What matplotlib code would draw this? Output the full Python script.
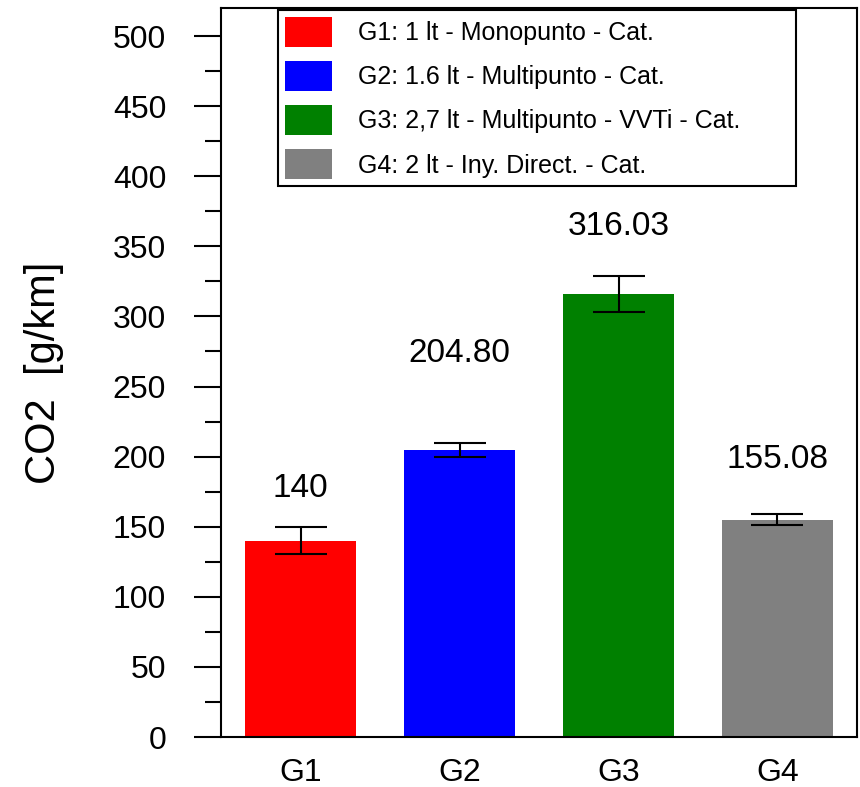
import matplotlib
matplotlib.use("Agg")
import matplotlib.pyplot as plt
from matplotlib.ticker import MultipleLocator
import numpy as np

plt.rcParams['font.family'] = ['Liberation Sans', 'DejaVu Sans']

# Data
groups = ["G1", "G2", "G3", "G4"]
co2 = [140.0, 204.80, 316.03, 155.08]
co2_err = [9.5, 4.8, 13.0, 4.0]
value_labels = ["140", "204.80", "316.03", "155.08"]
legend_labels = [
    "G1: 1 lt - Monopunto - Cat.",
    "G2: 1.6 lt - Multipunto - Cat.",
    "G3: 2,7 lt - Multipunto - VVTi - Cat.",
    "G4: 2 lt - Iny. Direct. - Cat.",
]
colors = ["#ff0000", "#0000ff", "#008000", "#808080"]

fig = plt.figure(figsize=(8.6, 7.87), dpi=100)
ax = fig.add_axes([0.257, 0.0635, 0.7395, 0.9263])

x = np.arange(len(groups))
bars = ax.bar(x, co2, width=0.7, color=colors, edgecolor="none",
              label=legend_labels, zorder=2)
ax.errorbar(x, co2, yerr=co2_err, fmt="none", ecolor="black",
            elinewidth=1.5, capsize=18.5, capthick=1.5, zorder=3)

# value annotations above each bar
label_offset = [28, 64, 35, 39]
for xi, v, e, off, txt in zip(x, co2, co2_err, label_offset, value_labels):
    ax.text(xi, v + e + off, txt, ha="center", va="center", fontsize=24)

ax.set_xlim(-0.5, 3.5)
ax.set_ylim(0, 520)
ax.set_xticks(x)
ax.set_xticklabels(groups)
ax.yaxis.set_major_locator(MultipleLocator(50))
ax.yaxis.set_minor_locator(MultipleLocator(25))
ax.set_yticks(np.arange(0, 501, 50))

ax.tick_params(axis="y", which="major", direction="out", length=19.5,
               width=1.5, pad=20, labelsize=23, right=False)
ax.tick_params(axis="y", which="minor", direction="out", length=11.5,
               width=1.5, right=False)
ax.tick_params(axis="x", which="both", length=0, pad=15, labelsize=23)

for s in ax.spines.values():
    s.set_linewidth(1.5)

ax.set_ylabel("CO2  [g/km]", fontsize=30)
ax.yaxis.set_label_coords(-0.247, 0.5)

leg = ax.legend(loc="upper left", bbox_to_anchor=(0.0896, 0.753, 0.814, 0.244),
                mode="expand", borderaxespad=0, fontsize=18, fancybox=False,
                framealpha=1, edgecolor="black", handlelength=1.88,
                handleheight=1.48, labelspacing=0.56, handletextpad=1.04,
                borderpad=0.26)
leg.get_frame().set_linewidth(1.5)

fig.savefig("out.png", dpi=100)
